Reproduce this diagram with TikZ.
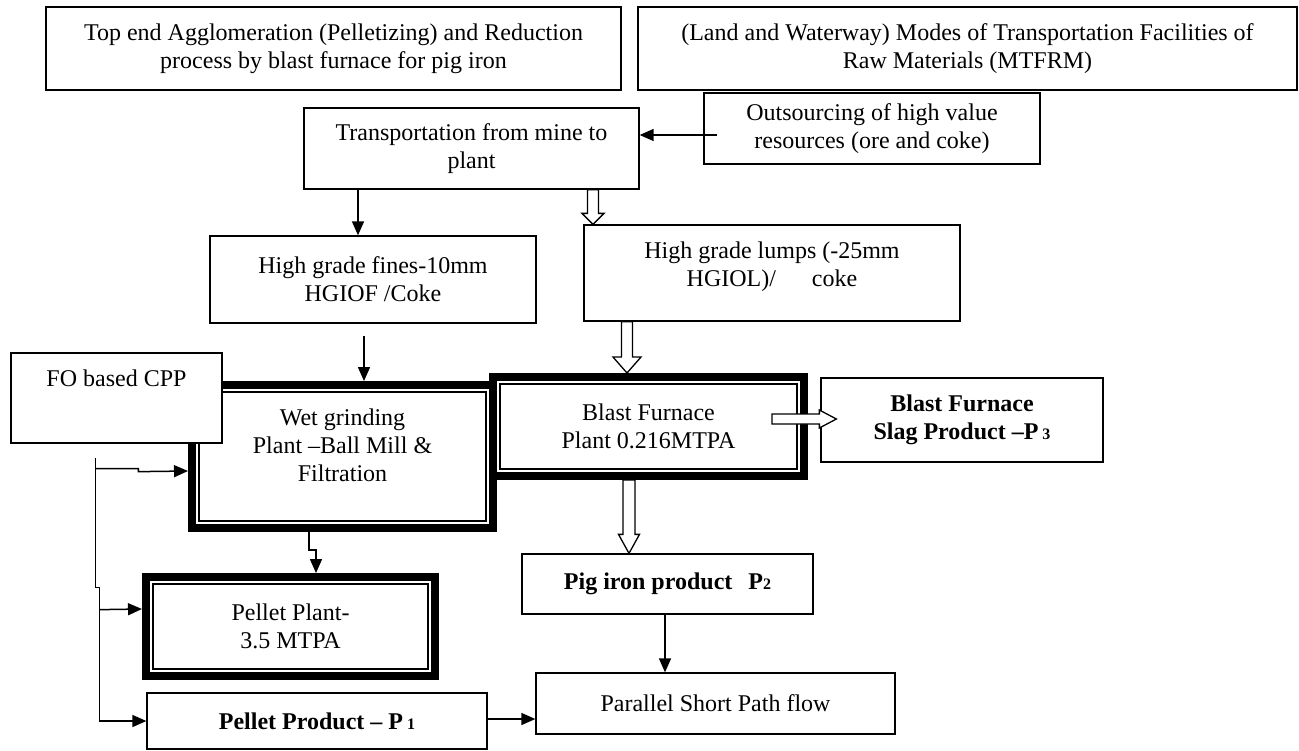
\documentclass[tikz,border=0pt]{standalone}
\usepackage{fontspec}
\setmainfont{Liberation Serif}
\usetikzlibrary{arrows.meta,calc}
\tikzset{
 box/.style={draw, line width=1.3pt, fill=white, inner sep=0pt, align=center, font=\fontsize{24}{28}\selectfont},
 boldbox/.style={box, font=\fontsize{24}{28}\selectfont\bfseries},
 thickbox/.style={box, line width=8pt},
 innerline/.style={line width=1.3pt},
 arr/.style={-{Triangle[length=14pt,width=12pt]}, line width=1.5pt},
 plainline/.style={line width=1.5pt},
 harrow/.style={draw, fill=white, line width=1.3pt, line join=miter},
}
\newcommand\lowdigit[1]{{\fontsize{16}{16}\selectfont #1}}
\newcommand\hollowdown[5]{%
 \draw[harrow] let \p1=(#1), \p2=(#2) in
 (\x1-#3pt,\y1) -- (\x1-#3pt,\y2+#5pt) -- (\x1-#4pt,\y2+#5pt) -- (\x1,\y2) -- (\x1+#4pt,\y2+#5pt) -- (\x1+#3pt,\y2+#5pt) -- (\x1+#3pt,\y1) -- cycle;}
\newcommand\hollowright[5]{%
 \draw[harrow] let \p1=(#1), \p2=(#2) in
 (\x1,\y1+#3pt) -- (\x2-#5pt,\y1+#3pt) -- (\x2-#5pt,\y1+#4pt) -- (\x2,\y1) -- (\x2-#5pt,\y1-#4pt) -- (\x2-#5pt,\y1-#3pt) -- (\x1,\y1-#3pt) -- cycle;}
\begin{document}
\begin{tikzpicture}[x=1pt,y=-1pt]
\useasboundingbox (0,0) rectangle (1299,750);

% top boxes
\node[box, minimum width=575pt, minimum height=83pt] (topA) at (333.5,48.5)
 {Top end Agglomeration (Pelletizing) and Reduction\\process by blast furnace for pig iron};
\node[box, minimum width=659pt, minimum height=83pt] (topB) at (967.5,48.5)
 {(Land and Waterway) Modes of Transportation Facilities of\\Raw Materials (MTFRM)};
\node[box, minimum width=335pt, minimum height=81pt] (transport) at (471.5,148.5)
 {Transportation from mine to\\plant};
\node[box, minimum width=336pt, minimum height=71pt] (outs) at (872,128.5)
 {Outsourcing of high value\\resources (ore and coke)};
\node[box, minimum width=326pt, minimum height=87pt] (fines) at (373,279.5)
 {High grade fines-10mm\\HGIOF /Coke};
\node[box, minimum width=376pt, minimum height=96pt] (lumps) at (772,273)
 {High grade lumps (-25mm\\HGIOL)/\hspace{36pt}coke\\[-10pt]\mbox{}};

% thick boxes
\node[thickbox, minimum width=301pt, minimum height=143pt] (wet) at (342.5,456.5)
 {Wet grinding\\Plant --Ball Mill \&\\Filtration\\[-5pt]\mbox{}};
\draw[innerline] ([shift={(11,11)}]wet.north west) rectangle ([shift={(-11,-11)}]wet.south east);
\node[thickbox, minimum width=311pt, minimum height=99pt] (blast) at (648.5,426.5)
 {Blast Furnace\\Plant 0.216MTPA};
\draw[innerline] ([shift={(11,11)}]blast.north west) rectangle ([shift={(-11,-11)}]blast.south east);
\node[thickbox, minimum width=289pt, minimum height=99pt] (pellet) at (290.5,626.5)
 {Pellet Plant-\\3.5 MTPA};
\draw[innerline] ([shift={(11,11)}]pellet.north west) rectangle ([shift={(-11,-11)}]pellet.south east);

\node[box, minimum width=211pt, minimum height=90pt] (fo) at (116.5,398)
 {FO based CPP\\[12pt]\mbox{}};
\node[boldbox, minimum width=282pt, minimum height=84pt] (slag) at (962,420)
 {Blast Furnace\\Slag Product --P\,\lowdigit{3}};
\node[boldbox, minimum width=291pt, minimum height=60pt] (pig) at (667.5,584)
 {Pig iron product\hspace{16pt}P\lowdigit{2}};
\node[box, minimum width=359pt, minimum height=61pt] (parallel) at (715.5,703.5)
 {Parallel Short Path flow};
\node[boldbox, minimum width=340pt, minimum height=56pt] (pprod) at (317,721)
 {Pellet Product -- P\,\lowdigit{1}};

% thin connectors
\draw[arr] ($(outs.west)+(14,6.5)$) -- ($(transport.east)+(0,-13.5)$);
\draw[arr] ($(transport.south)+(-113.5,0)$) -- ($(fines.north)+(-15,0)$);
\draw[arr] ($(fines.south)+(-9,12)$) -- ($(wet.north)+(21.5,0)$);
\coordinate (fo1) at ($(fo.south west)+(85,14)$);
\draw[arr] (fo1) -- ++(0,130) -- ++(4,0) |- (pprod.west);
\draw[arr] ($(fo1)+(0,11)$) -- ++(43,0) -- ++(0,3) -- ($(wet.west)+(0,14.5)$);
\draw[arr] ($(fo1)+(4,152)$) -- ($(pellet.west)+(0,-17.5)$);
\draw[arr] ($(wet.south)+(-33.5,0)$) -- ++(0,18) -| ($(pellet.north)+(25.5,0)$);
\draw[arr] ($(pig.south)+(-2.5,0)$) -- ($(parallel.north)+(-50.5,0)$);
\draw[arr] ($(pprod.east)+(0,-2)$) -- ($(parallel.west)+(0,15.5)$);

% hollow arrows
\hollowdown{$(transport.south)+(121.5,0)$}{$(lumps.north)+(-179,0)$}{5.5}{11}{11}
\hollowdown{$(lumps.south)+(-145,0)$}{$(blast.north)+(-21.5,0)$}{5.5}{14}{16}
\hollowdown{$(blast.south)+(-19.5,0)$}{$(pig.north)+(-38.5,0)$}{6}{10.5}{19}
\hollowright{$(blast.east)+(-36,-7.5)$}{$(slag.west)+(16,-1)$}{5}{9}{17}
\end{tikzpicture}
\end{document}
